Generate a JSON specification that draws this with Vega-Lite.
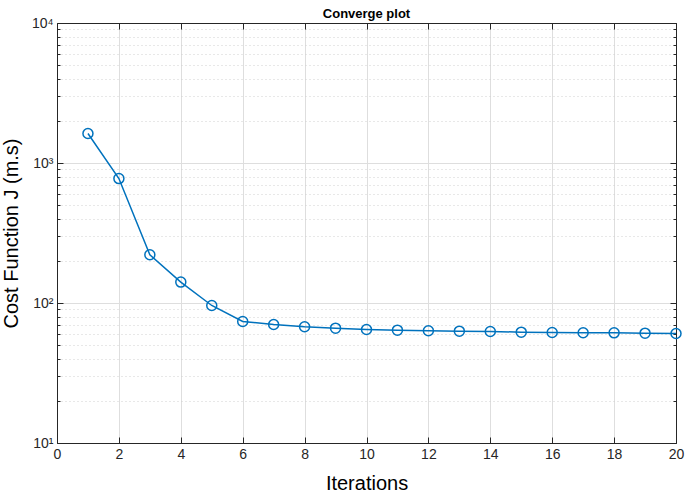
{
  "$schema": "https://vega.github.io/schema/vega-lite/v6.json",
  "width": 619,
  "height": 420,
  "autosize": "none",
  "padding": {"left": 57, "top": 23, "right": 9, "bottom": 50},
  "background": "white",
  "title": {"text": "Converge plot", "font": "Liberation Sans", "fontSize": 13, "fontWeight": "bold", "offset": -5, "color": "#000000"},
  "config": {
    "view": {"stroke": "#262626", "strokeWidth": 1},
    "font": "Liberation Sans",
    "axis": {"labelFont": "Liberation Sans", "titleFont": "Liberation Sans", "labelColor": "#262626", "titleColor": "#000000", "domainColor": "#262626", "tickColor": "#262626", "labelFontSize": 14, "titleFontSize": 20, "titleFontWeight": "normal"}
  },
  "data": {
    "values": [
      {"iter": 1, "J": 1625},
      {"iter": 2, "J": 774},
      {"iter": 3, "J": 221},
      {"iter": 4, "J": 141},
      {"iter": 5, "J": 96},
      {"iter": 6, "J": 73.8},
      {"iter": 7, "J": 70.2},
      {"iter": 8, "J": 67.6},
      {"iter": 9, "J": 66.1},
      {"iter": 10, "J": 64.7},
      {"iter": 11, "J": 64.0},
      {"iter": 12, "J": 63.3},
      {"iter": 13, "J": 62.9},
      {"iter": 14, "J": 62.6},
      {"iter": 15, "J": 61.9},
      {"iter": 16, "J": 61.6},
      {"iter": 17, "J": 61.3},
      {"iter": 18, "J": 61.2},
      {"iter": 19, "J": 60.9},
      {"iter": 20, "J": 60.6}
    ]
  },
  "layer": [
    {
      "mark": {"type": "line", "color": "#0072BD", "strokeWidth": 1.5},
      "encoding": {
        "x": {
          "field": "iter", "type": "quantitative",
          "scale": {"domain": [0, 20], "nice": false},
          "axis": {
            "title": "Iterations",
            "values": [0, 2, 4, 6, 8, 10, 12, 14, 16, 18, 20],
            "grid": true, "gridColor": "#dedede", "gridWidth": 1,
            "tickSize": -6, "labelPadding": 10, "titlePadding": 12,
            "labelFlush": false, "labelOverlap": false
          }
        },
        "y": {
          "field": "J", "type": "quantitative",
          "scale": {"type": "log", "domain": [10, 10000], "nice": false},
          "axis": {
            "title": "Cost Function J (m.s)",
            "values": [10, 20, 30, 40, 50, 60, 70, 80, 90, 100, 200, 300, 400, 500, 600, 700, 800, 900, 1000, 2000, 3000, 4000, 5000, 6000, 7000, 8000, 9000, 10000],
            "labelExpr": "datum.value==10?'10¹':datum.value==100?'10²':datum.value==1000?'10³':datum.value==10000?'10⁴':''",
            "grid": true,
            "gridColor": {"condition": {"test": "indexof([10,100,1000,10000], datum.value) >= 0", "value": "#dedede"}, "value": "#d0d0d0"},
            "gridDash": {"condition": {"test": "indexof([10,100,1000,10000], datum.value) >= 0", "value": []}, "value": [1, 3]},
            "tickSize": {"condition": {"test": "indexof([10,100,1000,10000], datum.value) >= 0", "value": -6}, "value": -3},
            "labelPadding": 10, "titlePadding": 10,
            "labelFlush": false, "labelOverlap": false, "labelBound": false
          }
        }
      }
    },
    {
      "mark": {"type": "point", "shape": "circle", "filled": false, "size": 100, "strokeWidth": 1.5, "color": "#0072BD", "opacity": 1},
      "encoding": {
        "x": {
          "field": "iter", "type": "quantitative",
          "axis": {"orient": "top", "title": null, "labels": false, "grid": false, "tickSize": -6, "values": [0, 2, 4, 6, 8, 10, 12, 14, 16, 18, 20]}
        },
        "y": {
          "field": "J", "type": "quantitative",
          "axis": {
            "orient": "right", "title": null, "labels": false, "grid": false,
            "values": [10, 20, 30, 40, 50, 60, 70, 80, 90, 100, 200, 300, 400, 500, 600, 700, 800, 900, 1000, 2000, 3000, 4000, 5000, 6000, 7000, 8000, 9000, 10000],
            "tickSize": {"condition": {"test": "indexof([10,100,1000,10000], datum.value) >= 0", "value": -6}, "value": -3}
          }
        }
      }
    }
  ],
  "resolve": {"axis": {"x": "independent", "y": "independent"}}
}
